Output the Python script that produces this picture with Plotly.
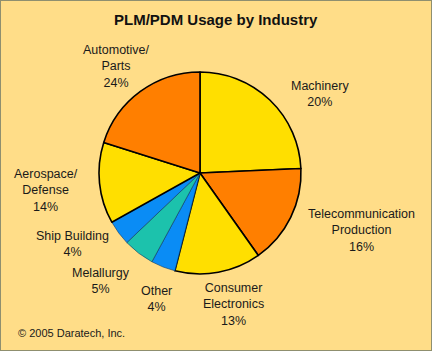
import plotly.graph_objects as go

# Slice order: clockwise from 12 o'clock
categories = ["Machinery", "Telecommunication Production", "Consumer Electronics",
              "Other", "Melallurgy", "Ship Building", "Aerospace/Defense", "Automotive/Parts"]
# slice sizes as drawn in the picture
values = [24.3, 15.9, 13.8, 3.9, 5.0, 4.0, 13.0, 20.1]
# percent labels as printed in the picture
label_text = ["Machinery<br>20%", "Telecommunication<br>Production<br>16%",
              "Consumer<br>Electronics<br>13%", "Other<br>4%", "Melallurgy<br>5%",
              "Ship Building<br>4%", "Aerospace/<br>Defense<br>14%", "Automotive/<br>Parts<br>24%"]
colors = ["#FFDF00", "#FF7F00", "#FFDF00", "#0A8CF5", "#1CC2AC", "#0A8CF5", "#FFDF00", "#FF7F00"]
line_w = [1.6, 1.6, 1.6, 0.6, 0.6, 0.6, 1.6, 1.6]
line_c = ["#000000", "#000000", "#000000", "#0a3a6a", "#0a3a6a", "#0a3a6a", "#000000", "#000000"]

# label centers in pixels (x, y of middle of text block)
label_pos = [(320, 94), (361, 230), (234, 304), (156, 299), (101, 281),
             (72, 244), (46, 190), (117, 66)]

W, H = 432, 351
cx, cy, r = 200, 173, 101

fig = go.Figure(go.Pie(
    labels=categories, values=values, sort=False, direction="clockwise",
    marker=dict(colors=colors, line=dict(color=line_c, width=line_w)),
    textinfo="none", hoverinfo="label+percent", showlegend=False,
    domain=dict(x=[(cx - r) / W, (cx + r) / W], y=[1 - (cy + r) / H, 1 - (cy - r) / H]),
))

annotations = []
for txt, (x, y) in zip(label_text, label_pos):
    annotations.append(dict(x=x / W, y=1 - y / H, xref="paper", yref="paper",
                            text=txt, showarrow=False, xanchor="center", yanchor="middle",
                            align="center",
                            font=dict(family="Liberation Sans, Arial", size=12.5, color="#1a1a1a")))
annotations.append(dict(x=216 / W, y=1 - 20 / H, xref="paper", yref="paper",
                        text="<b>PLM/PDM Usage by Industry</b>", showarrow=False,
                        xanchor="center", yanchor="middle",
                        font=dict(family="Liberation Sans, Arial", size=15, color="#111111")))
annotations.append(dict(x=16 / W, y=1 - 333 / H, xref="paper", yref="paper",
                        text="© 2005 Daratech, Inc.", showarrow=False,
                        xanchor="left", yanchor="middle",
                        font=dict(family="Liberation Sans, Arial", size=11, color="#1a1a1a")))

fig.update_layout(
    width=W, height=H, margin=dict(l=0, r=0, t=0, b=0),
    paper_bgcolor="#FFDD88", plot_bgcolor="#FFDD88",
    annotations=annotations,
    shapes=[dict(type="rect", xref="paper", yref="paper", x0=0, y0=0, x1=1, y1=1,
                 line=dict(color="#8f8f6f", width=2))],
)

fig.write_html("out.html")
